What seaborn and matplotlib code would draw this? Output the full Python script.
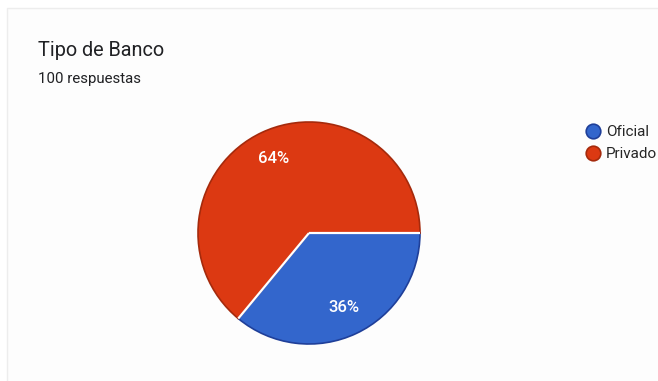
import numpy as np
import matplotlib
matplotlib.use("Agg")
import matplotlib.pyplot as plt
from matplotlib.lines import Line2D
from matplotlib.patches import Rectangle
import seaborn as sns

# Survey results
categories = ["Oficial", "Privado"]
counts = [36, 64]
title = "Tipo de Banco"
subtitle = "100 respuestas"

fill_colors = ["#3366cc", "#dc3912"]
edge_colors = ["#1f3f99", "#a52a0c"]

sns.set_theme(style="white")
plt.rcParams["font.family"] = ["Roboto", "DejaVu Sans"]

W, H = 658, 381
fig = plt.figure(figsize=(W / 100, H / 100), dpi=100)
fig.patch.set_facecolor("white")

# card outline
fig.add_artist(Rectangle((7 / W, -0.05), 1.0, (H - 8) / H + 0.05,
                         transform=fig.transFigure, facecolor="#fdfdfd",
                         edgecolor="#ededed", linewidth=1.0, zorder=-5))

# pie axes: centre (309, 233), radius 111 px
cx, cy, r = 309, 233, 111
half = 120
ax = fig.add_axes([(cx - half) / W, (H - cy - half) / H, 2 * half / W, 2 * half / H])
ax.set_facecolor("none")

wedges, _, autotexts = ax.pie(
    counts, colors=fill_colors, startangle=0, counterclock=False,
    autopct=lambda p: f"{p:.0f}%", pctdistance=0.74, radius=1.0,
    wedgeprops=dict(linewidth=1.2),
    textprops=dict(color="white", fontsize=12, fontweight="medium"),
)
for w, ec in zip(wedges, edge_colors):
    w.set_edgecolor(ec)

# white separators along slice boundaries
bounds = np.cumsum([0] + counts[:-1]) / sum(counts) * 360.0
for b in bounds:
    t = np.deg2rad(-b)
    ax.plot([0, np.cos(t)], [0, np.sin(t)], color="white", linewidth=1.6,
            solid_capstyle="butt", zorder=5)

lim = half / r
ax.set_xlim(-lim, lim)
ax.set_ylim(-lim, lim)
ax.set_aspect("equal")
ax.axis("off")

fig.text(38 / W, 1 - 50 / H, title, fontsize=14.3, color="#202124", va="center", ha="left")
fig.text(38 / W, 1 - 79 / H, subtitle, fontsize=10.8, color="#202124", va="center", ha="left")

handles = [Line2D([0], [0], marker="o", linestyle="none", markersize=10.5,
                  markerfacecolor=fc, markeredgecolor=ec, markeredgewidth=1.2)
           for fc, ec in zip(fill_colors, edge_colors)]
fig.legend(handles, categories, loc="upper left", bbox_to_anchor=(584 / W, 1 - 125 / H),
           frameon=False, fontsize=11, handletextpad=0.25, labelspacing=0.52,
           handlelength=1.2, borderaxespad=0, borderpad=0)

fig.savefig("out.png", dpi=100, facecolor="white")
